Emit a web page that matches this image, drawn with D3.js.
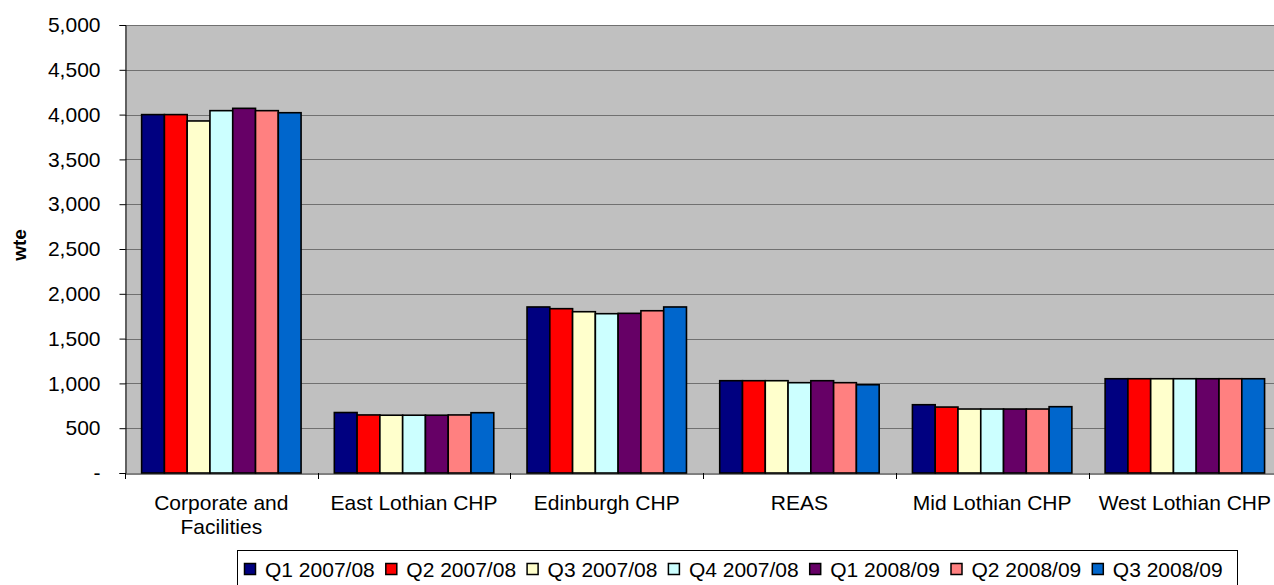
<!DOCTYPE html>
<html><head><meta charset="utf-8">
<script src="https://cdn.jsdelivr.net/npm/d3@7/dist/d3.min.js"></script>
<style>
html,body{margin:0;padding:0;background:#fff;}
svg text{font-family:"Liberation Sans",Arial,sans-serif;}
</style></head>
<body>
<svg id="chart" width="1274" height="585"></svg>
<script>
const categories = ["Corporate and Facilities","East Lothian CHP","Edinburgh CHP","REAS","Mid Lothian CHP","West Lothian CHP"];
const seriesNames = ["Q1 2007/08","Q2 2007/08","Q3 2007/08","Q4 2007/08","Q1 2008/09","Q2 2008/09","Q3 2008/09"];
const q1_0708 = [4000, 675, 1853, 1030, 762, 1052];
const q2_0708 = [4000, 648, 1834, 1030, 736, 1052];
const q3_0708 = [3929, 645, 1800, 1030, 714, 1052];
const q4_0708 = [4044, 645, 1778, 1008, 714, 1052];
const q1_0809 = [4070, 645, 1782, 1030, 714, 1052];
const q2_0809 = [4044, 648, 1811, 1008, 714, 1052];
const q3_0809 = [4021, 673, 1853, 985, 740, 1052];
const colors = ["#000080","#FF0000","#FFFFCC","#CCFFFF","#660066","#FF8080","#0066CC"];
const yTicks = [0,500,1000,1500,2000,2500,3000,3500,4000,4500,5000];
const yLabel = "wte";

(function(){
const seriesValues = [q1_0708,q2_0708,q3_0708,q4_0708,q1_0809,q2_0809,q3_0809];

const svg = d3.select("#chart");
const pL = 125, pT = 25, pB = 473, catW = 192.7;
const pR = pL + catW * categories.length;

const x0 = d3.scaleBand().domain(categories).range([pL, pR]).padding(0);
const x1 = d3.scaleBand().domain(seriesNames).range([0, x0.bandwidth()]).paddingInner(0).paddingOuter(0.73);
const y = d3.scaleLinear().domain([0, 5000]).range([pB, pT]);

svg.append("rect").attr("x", pL).attr("y", pT).attr("width", pR - pL).attr("height", pB - pT).attr("fill", "#C0C0C0");

svg.append("g").selectAll("line").data(yTicks.filter(d => d > 0)).join("line")
  .attr("x1", pL).attr("x2", pR)
  .attr("y1", d => Math.round(y(d)) + 0.5).attr("y2", d => Math.round(y(d)) + 0.5)
  .attr("stroke", "#707070").attr("stroke-width", 1);

const g = svg.append("g");
seriesNames.forEach((s, si) => {
  g.append("g").selectAll("rect").data(seriesValues[si]).join("rect")
    .attr("x", (d, i) => x0(categories[i]) + x1(s))
    .attr("y", d => y(d))
    .attr("width", x1.bandwidth())
    .attr("height", d => y(0) - y(d))
    .attr("fill", colors[si])
    .attr("stroke", "#000").attr("stroke-width", 1.6);
});

const yAxis = d3.axisLeft(y).tickValues(yTicks).tickSize(6).tickPadding(19)
  .tickFormat(d => d === 0 ? "-" : d3.format(",")(d));
const ya = svg.append("g").attr("transform", `translate(${pL + 0.5},0)`).call(yAxis);
ya.select(".domain").attr("stroke", "#000");
ya.selectAll(".tick line").attr("stroke", "#000");
ya.selectAll("text").attr("font-size", 21).attr("fill", "#000").attr("font-family", "Liberation Sans, Arial, sans-serif");

const xa = svg.append("g").attr("transform", `translate(0,${pB + 0.5})`)
  .call(d3.axisBottom(x0).tickSize(0).tickFormat(""));
xa.select(".domain").attr("stroke", "#000");
svg.append("g").selectAll("line").data(d3.range(categories.length + 1)).join("line")
  .attr("x1", i => Math.round(pL + i * catW) + 0.5).attr("x2", i => Math.round(pL + i * catW) + 0.5)
  .attr("y1", pB).attr("y2", pB + 6).attr("stroke", "#000");

const wrapped = {"Corporate and Facilities": ["Corporate and", "Facilities"]};
categories.forEach(c => {
  const lines = wrapped[c] || [c];
  const t = svg.append("text").attr("text-anchor", "middle").attr("font-size", 21).attr("fill", "#000");
  lines.forEach((ln, li) => {
    t.append("tspan").attr("x", x0(c) + x0.bandwidth() / 2).attr("y", 510 + li * 24).text(ln);
  });
});

svg.append("text").attr("transform", "translate(26,245) rotate(-90)").attr("text-anchor", "middle")
  .attr("font-size", 19).attr("font-weight", "bold").attr("fill", "#000").text(yLabel);

const lg = svg.append("g");
lg.append("rect").attr("x", 237.5).attr("y", 550.5).attr("width", 1000).attr("height", 40)
  .attr("fill", "#fff").attr("stroke", "#000");
seriesNames.forEach((s, i) => {
  const sx = 244 + i * 141.3;
  lg.append("rect").attr("x", sx + 0.5).attr("y", 563.5).attr("width", 11).attr("height", 11)
    .attr("fill", colors[i]).attr("stroke", "#000").attr("stroke-width", 1.5);
  lg.append("text").attr("x", sx + 21).attr("y", 577).attr("font-size", 21).attr("fill", "#000").text(s);
});
})();
</script>
</body></html>
